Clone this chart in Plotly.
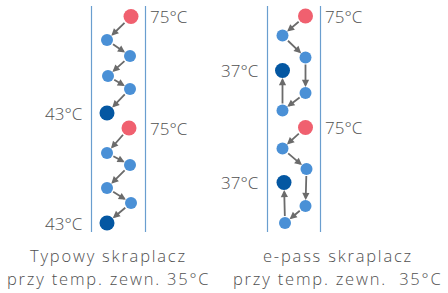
import plotly.graph_objects as go

# Panel geometry (data units = pixels of the browser window)
left_bounds = [91.5, 145.5]
right_bounds = [267.5, 320.5]
line_y = [6, 232]

# Left panel: typical condenser (two passes of zig-zag)
left_x = [131, 107, 130, 108, 130, 107, 129, 107, 130, 107, 131, 107]
left_y = [16.5, 40, 56, 76, 89, 113, 128, 153, 165, 188, 203, 223]
left_kind = ["hot", "mid", "mid", "mid", "mid", "cold",
             "hot", "mid", "mid", "mid", "mid", "cold"]
left_paths = [[0, 1], [1, 2], [2, 3], [3, 4], [4, 5],
              [6, 7], [7, 8], [8, 9], [9, 10], [10, 11]]

# Right panel: e-pass condenser
right_x = [305.5, 282.5, 305.5, 305.5, 282.5, 282.5,
           305.5, 282.5, 306.5, 305.5, 285, 284]
right_y = [16, 35.5, 57.5, 93, 110.5, 70.5,
           127.5, 148.5, 169, 206, 223, 182.5]
right_kind = ["hot", "mid", "mid", "mid", "mid", "cold",
              "hot", "mid", "mid", "mid", "mid", "cold"]
right_paths = [[0, 1], [1, 2], [2, 3], [3, 4], [4, 5],
               [6, 7], [7, 8], [8, 9], [9, 10], [10, 11]]

# Temperature labels
hot_label = "75°C"
left_cold_label = "43°C"
right_cold_label = "37°C"
captions_left = ["Typowy skraplacz", "przy temp. zewn. 35°C"]
captions_right = ["e-pass skraplacz", "przy temp. zewn.  35°C"]

colors = {"hot": "#F0606F", "mid": "#4A90D6", "cold": "#0457A2"}
sizes = {"hot": 15, "mid": 12, "cold": 15}

FONT = "Open Sans"
TXT = "#505050"
W, H = 448, 293

fig = go.Figure()

# Vertical boundary lines
for bx in left_bounds + right_bounds:
    fig.add_trace(go.Scatter(x=[bx, bx], y=line_y, mode="lines",
                             line=dict(color="#6A9ECF", width=1.2),
                             hoverinfo="skip", showlegend=False,
                             cliponaxis=False))

annotations = []

def add_arrows(xs, ys, kinds, paths):
    for a, b in paths:
        annotations.append(dict(
            x=xs[b], y=ys[b], ax=xs[a], ay=ys[a],
            xref="x", yref="y", axref="x", ayref="y",
            showarrow=True, arrowhead=2, arrowsize=0.8, arrowwidth=1.8,
            arrowcolor="#6b6b6b", text="",
            standoff=sizes[kinds[b]] / 2,
            startstandoff=sizes[kinds[a]] / 2 - 0.5,
        ))

add_arrows(left_x, left_y, left_kind, left_paths)
add_arrows(right_x, right_y, right_kind, right_paths)

# Points
for xs, ys, kinds in [(left_x, left_y, left_kind), (right_x, right_y, right_kind)]:
    fig.add_trace(go.Scatter(
        x=xs, y=ys, mode="markers", cliponaxis=False,
        marker=dict(color=[colors[k] for k in kinds],
                    size=[sizes[k] for k in kinds], line=dict(width=0),
                    opacity=1),
        hoverinfo="skip", showlegend=False))

def label(text, x, y, anchor):
    annotations.append(dict(x=x, y=y, xref="x", yref="y", text=text,
                            showarrow=False, xanchor=anchor, yanchor="middle",
                            font=dict(family=FONT, size=17, color=TXT,
                                      weight=300)))

for i, k in enumerate(left_kind):
    if k == "hot":
        label(hot_label, left_bounds[1] + 2.5, left_y[i], "left")
    if k == "cold":
        label(left_cold_label, left_bounds[0] - 7, left_y[i], "right")
for i, k in enumerate(right_kind):
    if k == "hot":
        label(hot_label, right_bounds[1] + 2, right_y[i], "left")
    if k == "cold":
        label(right_cold_label, right_bounds[0] - 7, right_y[i], "right")

# Captions (wide letter spacing to mimic the original geometric font)
for lines, cx in [(captions_left, 108.5), (captions_right, 337.5)]:
    for j, t in enumerate(lines):
        annotations.append(dict(
            x=cx, y=255 + 23.5 * j, xref="x", yref="y",
            text='<span style="letter-spacing:1.8px">' + t + '</span>',
            showarrow=False, xanchor="center", yanchor="middle",
            font=dict(family=FONT, size=16.5, color=TXT, weight=300)))

fig.update_layout(
    width=W, height=H,
    margin=dict(l=0, r=0, t=0, b=0),
    paper_bgcolor="white", plot_bgcolor="white",
    xaxis=dict(range=[0, W], visible=False, fixedrange=True),
    yaxis=dict(range=[H, 0], visible=False, fixedrange=True),
    annotations=annotations,
    showlegend=False,
)

fig.write_html("out.html", config={"displayModeBar": False},
               post_script="document.body.style.margin='0';"
                           "document.body.style.overflow='hidden';")
